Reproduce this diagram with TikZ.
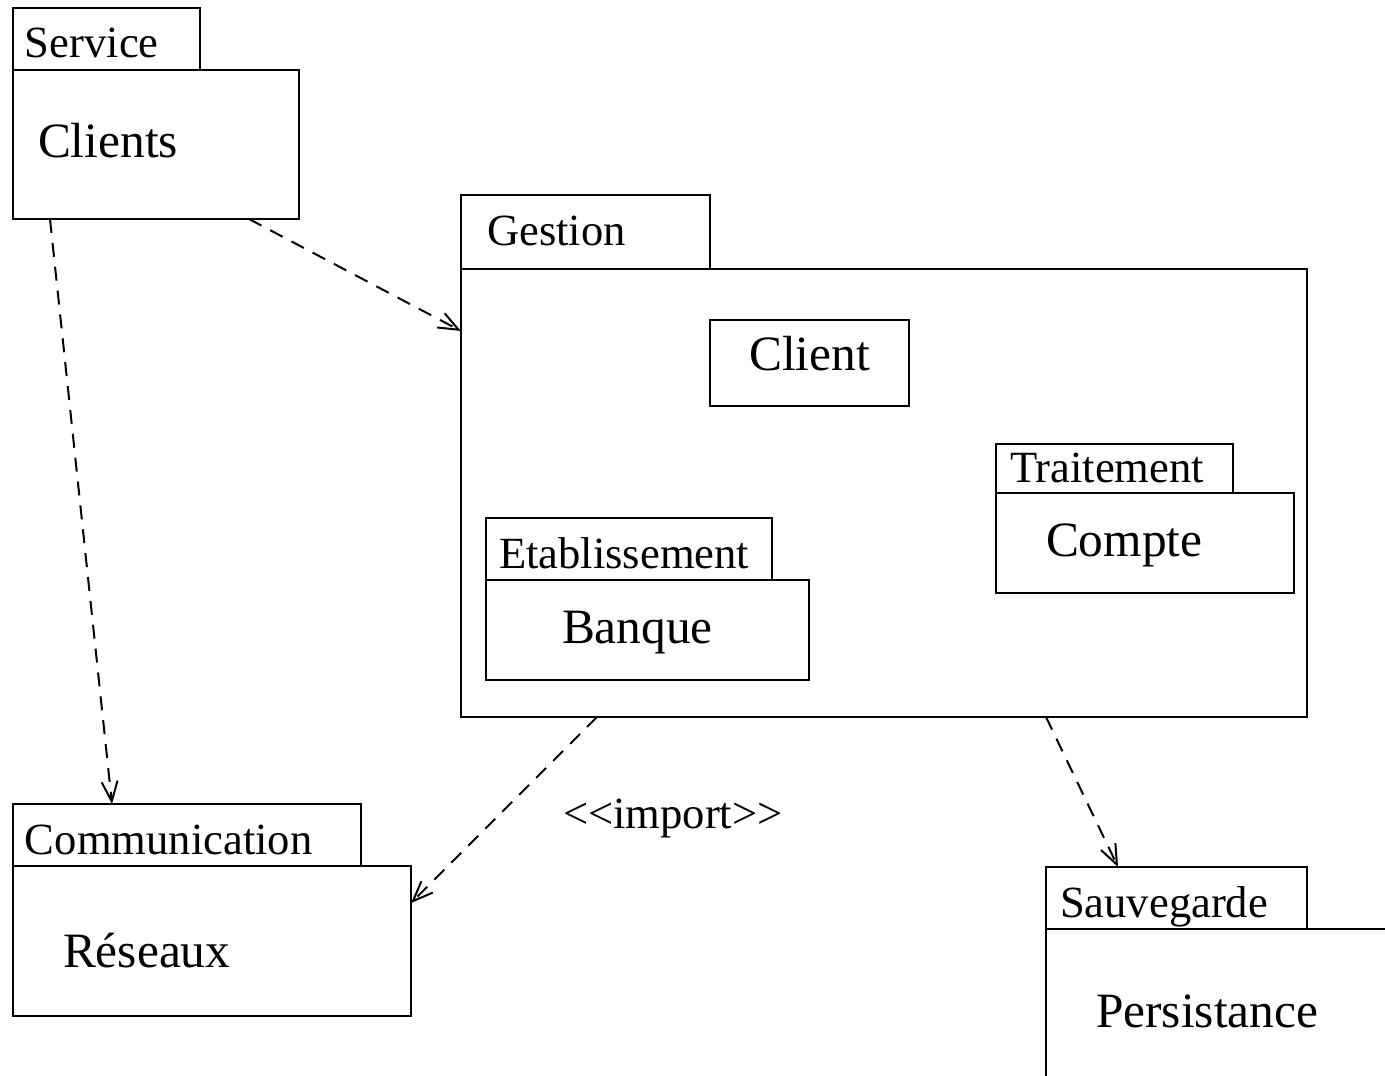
\documentclass[tikz,border=0pt]{standalone}
\usepackage{fontspec}
\setmainfont{Liberation Serif}
\usetikzlibrary{arrows.meta,positioning}
\newcommand{\tabfont}{\fontsize{22.3pt}{26pt}\selectfont}
\newcommand{\namefont}{\fontsize{24.7pt}{29pt}\selectfont}
\tikzset{%
  >={Straight Barb[length=10pt,width=8pt]},
  pkgframe/.style = {rectangle, draw=black, line width=1pt, outer sep=0pt},
  pkgtab/.style = {pkgframe, font=\tabfont, align=left, inner ysep=0pt,
      minimum height=31pt, text height=19pt, text depth=0pt},
  pkgbody/.style = {pkgframe, font=\namefont, align=left, inner ysep=0pt,
      text height=13pt, text depth=0pt},
  dep/.style = {->, line width=1pt, dash pattern=on 7pt off 5pt},
}

\begin{document}
\begin{tikzpicture}[x=0.5pt, y=-0.5pt]
  \useasboundingbox (0,0) rectangle (1385,1075);
  \clip (0,0) rectangle (1385,1075);
  % Packages (body first, tab sitting on its top left corner)
  \node (clientsBody)   [pkgbody, anchor=north west, inner xsep=12.5pt,
                         text width=118pt, minimum height=74.5pt]
                                                  at (13,70) {Clients};
  \node (serviceTab)    [pkgtab, inner xsep=6pt, text width=81.5pt,
                         above right=0pt and 0pt of clientsBody.north west]
                                                              {Service};
  \node (gestionBody)   [pkgframe, anchor=north west, inner sep=0pt,
                         minimum width=423pt, minimum height=224pt]
                                                        at (461,269) {};
  \node (gestionTab)    [pkgtab, inner xsep=13pt, text width=98.5pt,
                         minimum height=37pt, text height=13pt,
                         above right=0pt and 0pt of gestionBody.north west]
                                                              {Gestion};
  \node (clientClass)   [pkgbody, align=center, minimum width=99.5pt,
                         minimum height=43pt, text height=7pt,
                         below right=25.5pt and 124.5pt of gestionBody.north west]
                                                               {Client};
  \node (compteBody)    [pkgbody, inner xsep=25pt, text width=99pt,
                         minimum height=50pt,
                         below right=112pt and 267.5pt of gestionBody.north west]
                                                               {Compte};
  \node (traitementTab) [pkgtab, inner xsep=7pt, text width=104.5pt,
                         minimum height=24.5pt, text height=13.5pt,
                         above right=0pt and 0pt of compteBody.north west]
                                                           {Traitement};
  \node (banqueBody)    [pkgbody, inner xsep=38pt, text width=85.5pt,
                         minimum height=50pt,
                         below right=155.5pt and 12.5pt of gestionBody.north west]
                                                               {Banque};
  \node (etabTab)       [pkgtab, inner xsep=6.5pt, text width=130pt,
                         above right=0pt and 0pt of banqueBody.north west]
                                                        {Etablissement};
  \node (reseauxBody)   [pkgbody, anchor=north west, inner xsep=25pt,
                         text width=149pt, minimum height=75pt,
                         text height=26pt]
                                                 at (13,866) {Réseaux};
  \node (commTab)       [pkgtab, inner xsep=6pt, text width=162pt,
                         above right=0pt and 0pt of reseauxBody.north west]
                                                        {Communication};
  \node (persistBody)   [pkgbody, anchor=north west, inner xsep=25pt,
                         text width=150pt, minimum height=85pt]
                                            at (1046,929) {Persistance};
  \node (sauveTab)      [pkgtab, inner xsep=7pt, text width=116.5pt,
                         above right=0pt and 0pt of persistBody.north west]
                                                           {Sauvegarde};
  % Dependencies between packages
  \draw[dep] ([xshift=18.5pt]clientsBody.south west) --
             ([xshift=49.5pt]commTab.north west);
  \draw[dep] ([xshift=118pt]clientsBody.south west) --
             ([yshift=-31pt]gestionBody.north west);
  \draw[dep] ([xshift=68pt]gestionBody.south west) --
             node[right=29pt, yshift=-4pt, inner sep=0pt, font=\tabfont]
             {<\kern0pt<import>\kern0pt>}
             ([yshift=-18.5pt]reseauxBody.north east);
  \draw[dep] ([xshift=292.5pt]gestionBody.south west) --
             ([xshift=36pt]sauveTab.north west);
\end{tikzpicture}
\end{document}
